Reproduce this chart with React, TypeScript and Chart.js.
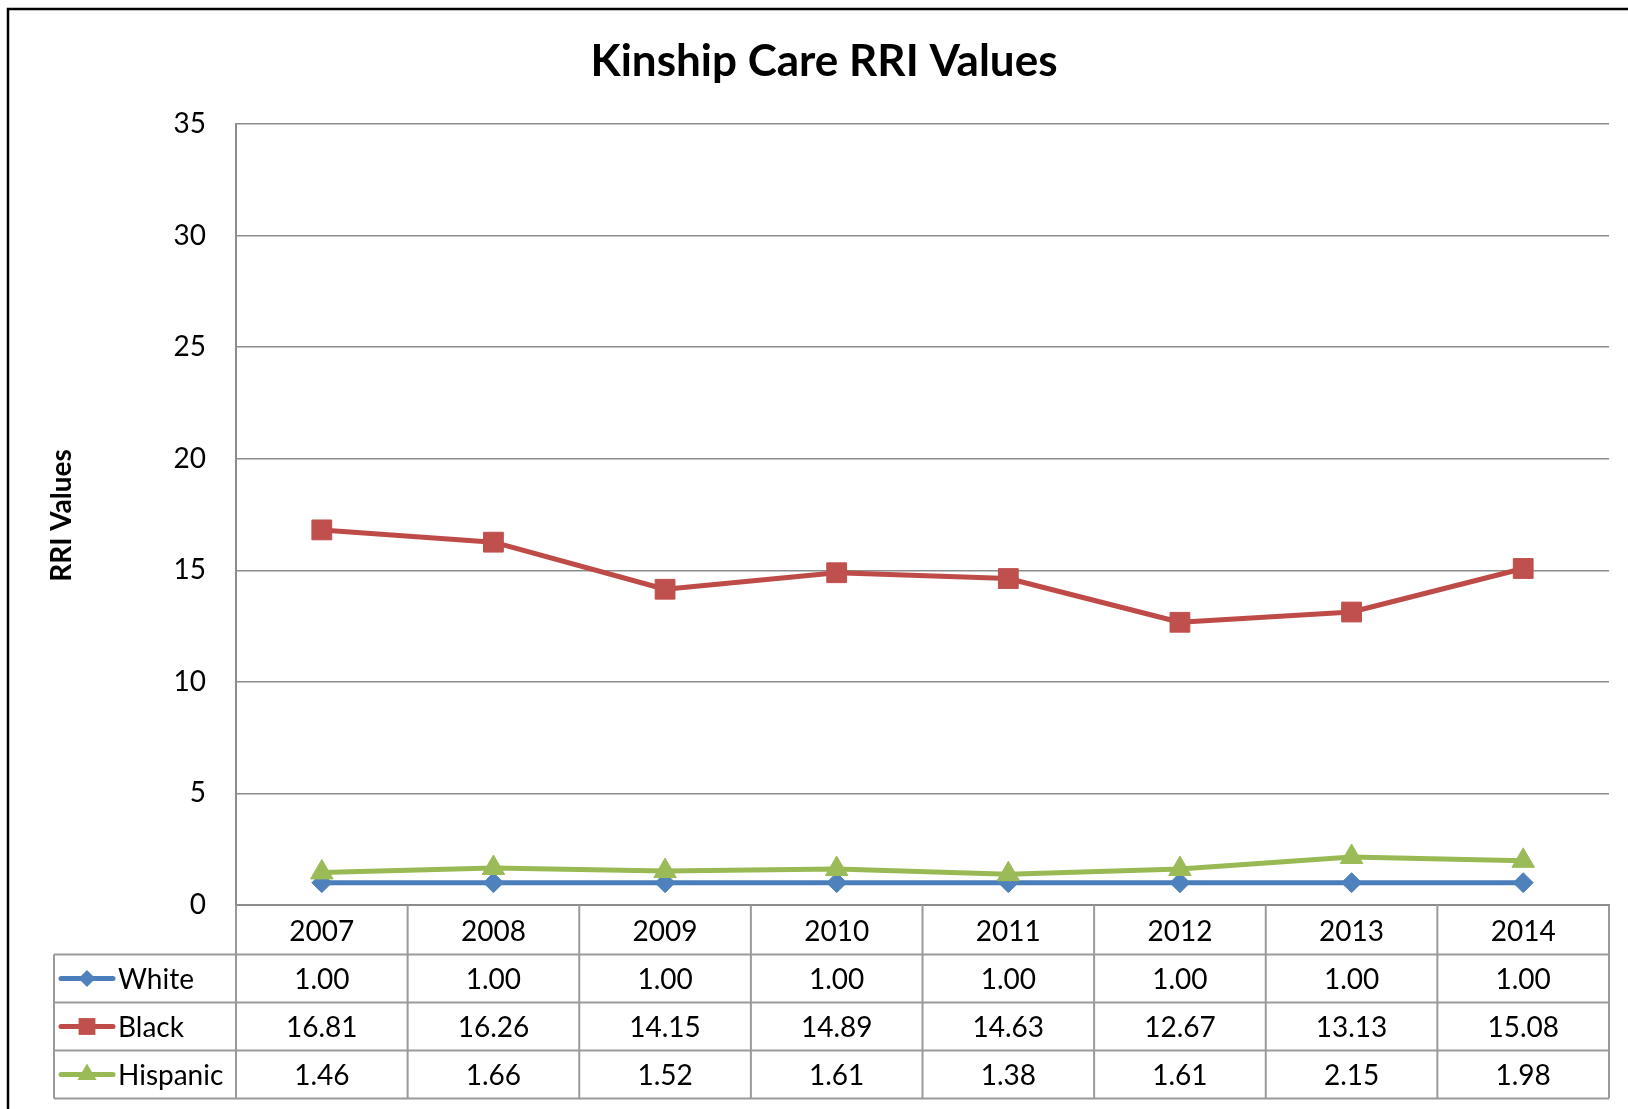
import React, { useEffect, useRef } from "react";
import { Chart, registerables } from "chart.js";

Chart.register(...registerables);

// ---- data ----
const years = ["2007", "2008", "2009", "2010", "2011", "2012", "2013", "2014"];
const whiteValues = [1.0, 1.0, 1.0, 1.0, 1.0, 1.0, 1.0, 1.0];
const blackValues = [16.81, 16.26, 14.15, 14.89, 14.63, 12.67, 13.13, 15.08];
const hispanicValues = [1.46, 1.66, 1.52, 1.61, 1.38, 1.61, 2.15, 1.98];
const seriesNames = ["White", "Black", "Hispanic"];
const yMin = 0;
const yMax = 35;
const yStep = 5;
const chartTitle = "Kinship Care RRI Values";
const yAxisTitle = "RRI Values";

// ---- styles ----
const W = 1628;
const H = 1109;
const FONT = "Lato, 'Open Sans', sans-serif";
const lineColors = ["#4A7EBB", "#BE4B48", "#98B954"];
const markerColors = ["#4F81BD", "#C0504D", "#9BBB59"];
const pointStyles = ["rectRot", "rect", "triangle"];
const pointRadii = [10, 14, 13];
const gridColor = "#8C8C8C";
const tableColor = "#9A9A9A";

function drawMarker(ctx: CanvasRenderingContext2D, style: string, x: number, y: number, r: number, color: string) {
  ctx.save();
  ctx.fillStyle = color;
  ctx.beginPath();
  if (style === "rectRot") {
    ctx.moveTo(x - r, y);
    ctx.lineTo(x, y - r);
    ctx.lineTo(x + r, y);
    ctx.lineTo(x, y + r);
  } else if (style === "rect") {
    const s = r * Math.SQRT1_2;
    ctx.rect(x - s, y - s, 2 * s, 2 * s);
  } else {
    ctx.moveTo(x, y - r);
    ctx.lineTo(x + r * 0.866, y + r * 0.5);
    ctx.lineTo(x - r * 0.866, y + r * 0.5);
  }
  ctx.closePath();
  ctx.fill();
  ctx.restore();
}

const decorPlugin = {
  id: "decor",
  afterDraw(chart: any) {
    const ctx: CanvasRenderingContext2D = chart.ctx;
    const area = chart.chartArea;
    const xs = chart.scales.x;
    const n = years.length;
    const colW = (area.right - area.left) / n;

    ctx.save();
    // outer border (top & left visible)
    ctx.strokeStyle = "#000";
    ctx.lineWidth = 2.5;
    ctx.beginPath();
    ctx.moveTo(8, H + 5);
    ctx.lineTo(8, 9);
    ctx.lineTo(W + 5, 9);
    ctx.stroke();

    // title
    ctx.fillStyle = "#000";
    ctx.font = `bold 44px ${FONT}`;
    ctx.textAlign = "center";
    ctx.textBaseline = "alphabetic";
    ctx.fillText(chartTitle, 824, 76);

    // y axis title
    ctx.save();
    ctx.translate(62, (area.top + area.bottom) / 2 + 1);
    ctx.rotate(-Math.PI / 2);
    ctx.font = `bold 28px ${FONT}`;
    ctx.textAlign = "center";
    ctx.textBaseline = "middle";
    ctx.fillText(yAxisTitle, 0, 0);
    ctx.restore();

    // data table
    const headerTop = area.bottom;
    const headerBottom = headerTop + 49.5;
    const rowH = 48;
    const tableLeft = 54;
    const tableBottom = headerBottom + rowH * 3;

    ctx.strokeStyle = tableColor;
    ctx.lineWidth = 2;
    ctx.beginPath();
    for (let r = 0; r <= 3; r++) {
      const y = headerBottom + r * rowH;
      ctx.moveTo(tableLeft, y);
      ctx.lineTo(area.right, y);
    }
    ctx.moveTo(tableLeft, headerBottom);
    ctx.lineTo(tableLeft, tableBottom);
    for (let i = 0; i <= n; i++) {
      const x = area.left + i * colW;
      ctx.moveTo(x, headerTop);
      ctx.lineTo(x, tableBottom);
    }
    ctx.stroke();

    ctx.fillStyle = "#000";
    ctx.font = `28px ${FONT}`;
    ctx.textAlign = "center";
    ctx.textBaseline = "middle";
    years.forEach((yr, i) => {
      ctx.fillText(yr, xs.getPixelForValue(i), (headerTop + headerBottom) / 2 + 2);
    });
    const rows = [whiteValues, blackValues, hispanicValues];
    rows.forEach((vals, r) => {
      const cy = headerBottom + r * rowH + rowH / 2 + 1;
      vals.forEach((v, i) => {
        ctx.fillText(v.toFixed(2), xs.getPixelForValue(i), cy);
      });
      ctx.save();
      ctx.strokeStyle = lineColors[r];
      ctx.lineWidth = 5;
      ctx.lineCap = "round";
      ctx.beginPath();
      ctx.moveTo(61, cy - 1);
      ctx.lineTo(113, cy - 1);
      ctx.stroke();
      ctx.restore();
      drawMarker(ctx, pointStyles[r], 87, cy - 1, pointRadii[r] * 0.85, markerColors[r]);
      ctx.textAlign = "left";
      ctx.fillText(seriesNames[r], 118, cy);
      ctx.textAlign = "center";
    });
    ctx.restore();
  },
};

export default function App() {
  const ref = useRef<HTMLCanvasElement | null>(null);

  useEffect(() => {
    const canvas = ref.current;
    if (!canvas) return;
    const allValues = [whiteValues, blackValues, hispanicValues];
    const orders = [3, 2, 1];
    const chart = new Chart(canvas, {
      type: "line",
      data: {
        labels: years,
        datasets: allValues.map((vals, i) => ({
          label: seriesNames[i],
          data: vals,
          borderColor: lineColors[i],
          backgroundColor: markerColors[i],
          borderWidth: 5,
          pointStyle: pointStyles[i] as any,
          pointRadius: pointRadii[i],
          pointHoverRadius: pointRadii[i],
          pointBackgroundColor: markerColors[i],
          pointBorderColor: markerColors[i],
          pointBorderWidth: 1,
          tension: 0,
          fill: false,
          borderJoinStyle: "round" as any,
          borderCapStyle: "round" as any,
          order: orders[i],
        })),
      },
      options: {
        responsive: false,
        animation: false,
        devicePixelRatio: 1,
        layout: { padding: { left: 0, right: 19, top: 124, bottom: H - 905 } },
        plugins: {
          legend: { display: false },
          title: { display: false },
          tooltip: { enabled: false },
        },
        scales: {
          x: {
            type: "category",
            offset: true,
            grid: { display: false, drawTicks: false },
            ticks: { display: false },
            border: { display: true, color: gridColor, width: 2 },
            afterFit: (scale: any) => {
              scale.height = 0;
            },
          },
          y: {
            min: yMin,
            max: yMax,
            ticks: {
              stepSize: yStep,
              color: "#000",
              font: { family: FONT, size: 28 },
              padding: 30,
            },
            grid: { color: gridColor, lineWidth: 1.5, drawTicks: false },
            border: { display: true, color: gridColor, width: 2 },
            afterFit: (scale: any) => {
              scale.width = 236;
            },
          },
        },
      },
      plugins: [decorPlugin],
    });
    return () => chart.destroy();
  }, []);

  return (
    <div style={{ position: "absolute", left: 0, top: 0, width: W, height: H, background: "#fff" }}>
      <canvas ref={ref} width={W} height={H} style={{ display: "block", width: W, height: H }} />
    </div>
  );
}
